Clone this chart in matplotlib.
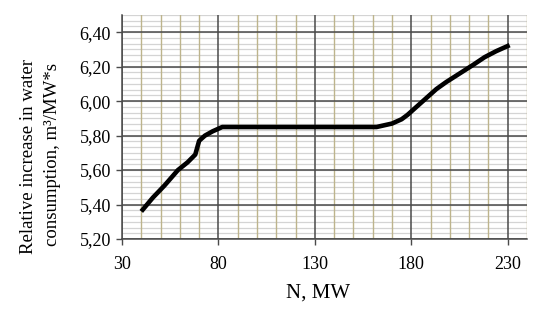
import matplotlib
matplotlib.use("Agg")
import matplotlib.pyplot as plt
import numpy as np
from matplotlib.ticker import FuncFormatter

# Data
power_mw = [40, 46, 52, 59, 64, 68, 70, 73, 77, 82, 100, 130, 162, 170, 175, 178, 183, 188, 193, 198, 205, 212, 218, 224, 231]
water_rel = [5.36, 5.44, 5.51, 5.60, 5.645, 5.69, 5.77, 5.80, 5.825, 5.85, 5.85, 5.85, 5.85, 5.87, 5.895, 5.92, 5.97, 6.02, 6.07, 6.11, 6.16, 6.21, 6.255, 6.29, 6.325]

x_ticks = [30, 80, 130, 180, 230]
y_ticks = [5.20, 5.40, 5.60, 5.80, 6.00, 6.20, 6.40]

plt.rcParams['font.family'] = ['Liberation Serif', 'DejaVu Serif']

fig = plt.figure(figsize=(5.5, 3.13), dpi=100)
ax = fig.add_axes([122/550, 1-239/313, (527-122)/550, (239-15)/313])

ax.set_xlim(30, 240)
ax.set_ylim(5.20, 6.50)

# grid: minor lines
for yv in np.arange(5.20, 6.501, 0.2/6):
    ax.axhline(yv, color='#d4d4d4', lw=0.9, zorder=1)
for xv in np.arange(30, 241, 10):
    if (xv - 30) % 50 != 0:
        ax.axvline(xv, color='#bdb48c', lw=1.0, zorder=1.5)
# major
for yv in y_ticks:
    ax.axhline(yv, color='#4a4a4a', lw=1.1, zorder=2)
for xv in x_ticks:
    ax.axvline(xv, color='#4a4a4a', lw=1.1, zorder=2)

ax.plot(power_mw, water_rel, color='black', lw=3.3, solid_joinstyle='round', solid_capstyle='butt', zorder=5)

ax.set_xticks(x_ticks)
ax.set_yticks(y_ticks)
ax.yaxis.set_major_formatter(FuncFormatter(lambda v, p: f"{v:.2f}".replace('.', ',')))
ax.tick_params(axis='both', labelsize=13, length=4, width=1.0, color='#4a4a4a', pad=4)
ax.tick_params(axis='x', pad=8)

for s in ['top', 'right']:
    ax.spines[s].set_visible(False)
ax.spines['left'].set_color('#4a4a4a')
ax.spines['bottom'].set_color('#4a4a4a')
ax.spines['left'].set_linewidth(1.1)
ax.spines['bottom'].set_linewidth(1.1)

fig.text(0.052, 1-157/313, "Relative increase in water", rotation=90, ha='center', va='center', fontsize=13.5)
fig.text(0.095, 1-155/313, "consumption, m³/MW*s", rotation=90, ha='center', va='center', fontsize=13.5)
fig.text(318/550, 1-293/313, "N, MW", ha='center', va='center', fontsize=15)

fig.savefig("out.png", dpi=100)
